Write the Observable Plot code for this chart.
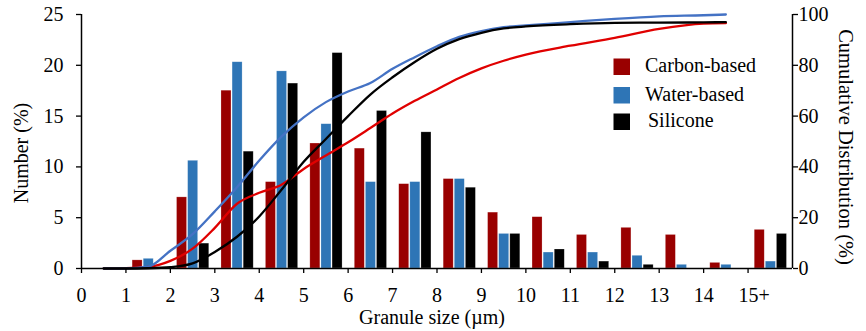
<!DOCTYPE html>
<html>
<head>
<meta charset="utf-8">
<script src="https://cdn.jsdelivr.net/npm/d3@7"></script>
<script src="https://cdn.jsdelivr.net/npm/@observablehq/plot@0.6"></script>
<style>
  body { margin: 0; background: #fff; }
  #chart svg { display: block; }
</style>
</head>
<body>
<div id="chart"></div>
<script>
// ---- Data ----
const seriesNames = ["Carbon-based", "Water-based", "Silicone"];
// Granule size bins: lower bound of each bin (µm); last bin is "15+"
const binStarts = [1, 2, 3, 4, 5, 6, 7, 8, 9, 10, 11, 12, 13, 14, 15];
const xTickValues = [0, 1, 2, 3, 4, 5, 6, 7, 8, 9, 10, 11, 12, 13, 14, 15];
const xTickLabels = ["0", "1", "2", "3", "4", "5", "6", "7", "8", "9", "10", "11", "12", "13", "14", "15+"];
const leftTicks = [0, 5, 10, 15, 20, 25];

// Number (%) per bin
const carbonNumber   = [0.8, 7.0, 17.5, 8.5, 12.3, 11.8, 8.3, 8.8, 5.5, 5.05, 3.3, 4.0, 3.3, 0.55, 3.8];
const waterNumber    = [0.95, 10.6, 20.3, 19.4, 14.2, 8.5, 8.5, 8.8, 3.4, 1.57, 1.57, 1.25, 0.36, 0.36, 0.68];
const siliconeNumber = [0, 2.45, 11.5, 18.2, 21.2, 15.5, 13.4, 7.95, 3.4, 1.87, 0.68, 0.36, 0, 0, 3.4];

// Cumulative distribution (%)
const cumX         = [0.5, 1, 1.5, 2, 2.5, 3, 3.5, 4, 4.5, 5, 5.5, 6, 6.5, 7, 7.5, 8, 8.5, 9, 9.5, 10, 11, 12, 13, 14, 14.5];
const carbonCum    = [0, 0.1, 0.6, 3, 7.8, 16, 25.5, 29.8, 33, 39.2, 44.5, 49.7, 55.3, 61, 66, 70.5, 75, 78.8, 81.8, 84.2, 87.7, 90.8, 94.3, 96.4, 96.6];
const waterCum     = [0, 0, 0.7, 7, 13.5, 22.5, 32, 42.5, 51.9, 59.5, 65.5, 69.7, 73, 78.6, 83.2, 87.5, 91.2, 93.5, 95, 95.7, 97, 98.3, 99.3, 99.7, 100];
const siliconeCum  = [0, 0, 0.1, 0.5, 2, 6.5, 12.5, 20.5, 31, 42, 51, 60, 68.5, 75.3, 81.3, 86.5, 90.3, 92.8, 94.5, 95.3, 96.2, 96.7, 96.8, 96.9, 97];

// ---- Styling / layout (not data) ----
const barColors  = ["#990000", "#2E75B6", "#000000"];
const lineColors = ["#E00000", "#4472C4", "#000000"];
const barOffset = [0.15, 0.40, 0.65];
const barWidth = 0.225;
const font = "'Liberation Serif', 'Times New Roman', serif";

const numberSeries = [carbonNumber, waterNumber, siliconeNumber];
const cumSeries = [carbonCum, waterCum, siliconeCum];

const barMarks = numberSeries.map((vals, s) =>
  Plot.rectY(binStarts.map((b, i) => ({start: b, value: vals[i]})), {
    x1: d => d.start + barOffset[s],
    x2: d => d.start + barOffset[s] + barWidth,
    y1: 0,
    y2: "value",
    fill: barColors[s],
    stroke: "#fff",
    strokeOpacity: 0.35,
    strokeWidth: 0.6
  })
);

// draw order: carbon, water, silicone on top
const lineMarks = cumSeries.map((vals, s) =>
  Plot.line(cumX.map((x, i) => ({x, c: vals[i]})), {
    x: "x",
    y: d => d.c / 4, // cumulative (0-100) onto the 0-25 left scale
    stroke: lineColors[s],
    strokeWidth: 2.3,
    curve: "monotone-x"
  })
);

const chart = Plot.plot({
  width: 866,
  height: 331,
  marginLeft: 81,
  marginRight: 74,
  marginTop: 14,
  marginBottom: 63,
  style: {fontFamily: font, fontSize: "20px", color: "#000", background: "#fff", overflow: "visible"},
  x: {domain: [0, 16]},
  y: {domain: [0, 25]},
  marks: [
    ...barMarks,
    ...lineMarks,
    Plot.ruleY([0], {stroke: "#000", strokeWidth: 1.5}),
    Plot.ruleX([0, 16], {stroke: "#000", strokeWidth: 1.5}),
    Plot.axisX({
      ticks: xTickValues,
      tickFormat: d => xTickLabels[xTickValues.indexOf(d)],
      tickSize: 5,
      tickPadding: 14,
      label: null,
      strokeWidth: 1.3
    }),
    Plot.axisY({
      anchor: "left",
      ticks: leftTicks,
      tickSize: 5,
      tickPadding: 13,
      label: null,
      strokeWidth: 1.3
    }),
    Plot.axisY({
      anchor: "right",
      ticks: leftTicks,
      tickFormat: d => d * 4,
      tickSize: 5,
      tickPadding: 1,
      label: null,
      strokeWidth: 1.3
    })
  ]
});

document.getElementById("chart").appendChild(chart);

// shift the "15+" label a little, as in the reference
chart.querySelectorAll("text").forEach(t => {
  if (t.textContent === "15+") t.setAttribute("dx", "6");
});

// axis titles and legend
const svg = d3.select(chart);
svg.append("text")
  .attr("transform", "translate(21,153) rotate(-90)")
  .attr("text-anchor", "middle")
  .attr("dominant-baseline", "central")
  .style("font-family", font).style("font-size", "20px").attr("fill", "#000")
  .text("Number (%)");
svg.append("text")
  .attr("transform", "translate(846,147) rotate(90)")
  .attr("text-anchor", "middle")
  .attr("dominant-baseline", "central")
  .style("font-family", font).style("font-size", "20.5px").attr("fill", "#000")
  .text("Cumulative Distribution (%)");
svg.append("text")
  .attr("x", 432).attr("y", 324)
  .attr("text-anchor", "middle")
  .style("font-family", font).style("font-size", "20px").attr("fill", "#000")
  .text("Granule size (µm)");

const legendY = [58.5, 87, 113.5];
const legendTextX = [645, 645, 648];
const legendBase = [72, 100.5, 127];
seriesNames.forEach((name, i) => {
  svg.append("rect")
    .attr("x", 613.5).attr("y", legendY[i])
    .attr("width", 16.5).attr("height", 16.5)
    .attr("fill", barColors[i]);
  svg.append("text")
    .attr("x", legendTextX[i]).attr("y", legendBase[i])
    .attr("text-anchor", "start")
    .style("font-family", font).style("font-size", "20px").attr("fill", "#000")
    .text(name);
});
</script>
</body>
</html>
